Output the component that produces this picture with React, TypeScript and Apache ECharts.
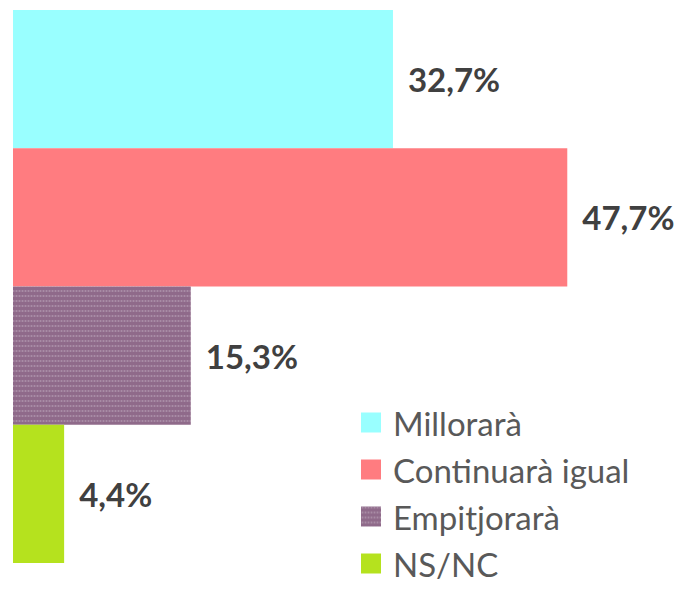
import React, { useEffect, useRef } from "react";
import * as echarts from "echarts";

const categories = ["Millorarà", "Continuarà igual", "Empitjorarà", "NS/NC"];
const values = [32.7, 47.7, 15.3, 4.4];
const colors = ["#99FFFF", "#FF7C80", "#8F6A8A", "#B5E21E"];

export default function App() {
  const ref = useRef<HTMLDivElement>(null);
  useEffect(() => {
    document.body.style.margin = "0";
    const chart = echarts.init(ref.current!, null, { renderer: "svg" });
    const series = categories.map((name, i) => ({
      name,
      type: "bar",
      stack: "all",
      barWidth: "100%",
      data: values.map((v, j) => (j === i ? v : "-")),
      itemStyle: {
        color: colors[i],
        decal:
          i === 2
            ? {
                symbol: "rect",
                symbolSize: 0.6,
                color: "rgba(255,255,255,0.45)",
                dashArrayX: [3, 0],
                dashArrayY: [2, 3],
                rotation: 0,
              }
            : "none",
      },
      label: {
        show: true,
        position: "right",
        distance: 15,
        fontFamily: "Lato",
        fontWeight: "bold",
        fontSize: 33,
        color: "#404040",
        formatter: (p: any) => p.value.toFixed(1).replace(".", ",") + "%",
      },
    }));
    chart.setOption({
      animation: false,
      grid: { left: 13, top: 10, height: 553, width: 581 },
      xAxis: { type: "value", min: 0, max: 50, show: false },
      yAxis: {
        type: "category",
        data: categories,
        inverse: true,
        show: false,
      },
      legend: {
        orient: "vertical",
        left: 361,
        top: 406,
        height: 200,
        padding: 0,
        itemWidth: 20,
        itemHeight: 20,
        itemGap: 14,
        icon: "rect",
        selectedMode: false,
        data: categories,
        textStyle: {
          fontFamily: "Lato",
          fontSize: 33,
          color: "#595959",
          padding: [0, 0, 0, 7],
        },
      },
      series,
    });
    return () => chart.dispose();
  }, []);
  return <div ref={ref} style={{ width: 679, height: 590 }} />;
}
